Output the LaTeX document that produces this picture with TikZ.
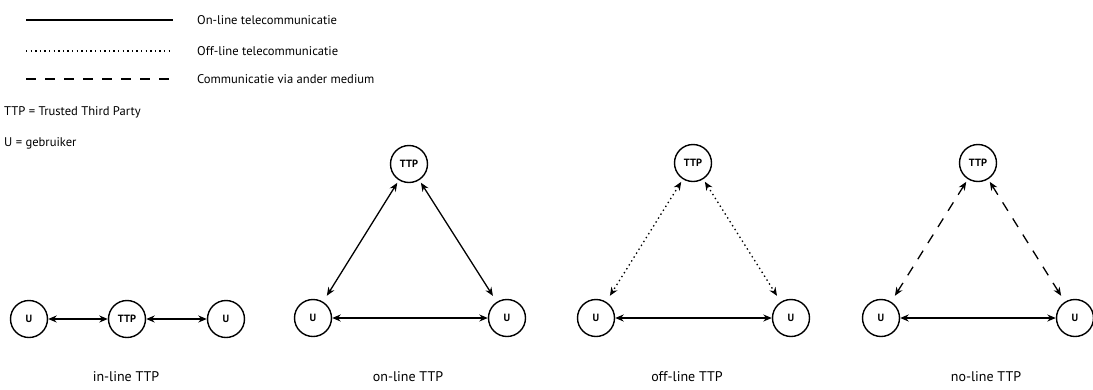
\documentclass[tikz,border=0pt]{standalone}
\usepackage{fontspec}
\setmainfont{PT Sans}
\usetikzlibrary{arrows.meta}
\tikzset{
  party/.style={draw, circle, line width=1.4pt, minimum size=37pt, inner sep=0pt, font=\bfseries\fontsize{10.5}{12}\selectfont},
  link/.style={line width=1.3pt, {Stealth[length=8.5pt,width=7pt]}-{Stealth[length=8.5pt,width=7pt]}},
  diag/.style={link, shorten <=3pt, shorten >=7pt},
  offl/.style={dash pattern=on 1.4pt off 3.2pt},
  nol/.style={dash pattern=on 10pt off 9pt},
  legtext/.style={anchor=west, inner sep=0pt, font=\fontsize{12.6}{14}\selectfont},
  caption/.style={font=\fontsize{14}{16}\selectfont, inner sep=0pt},
}
\begin{document}
\begin{tikzpicture}[x=1pt,y=-1pt]
\useasboundingbox (0,0) rectangle (1093,389);
% legend
\coordinate (l1a) at (26,20); \coordinate (l1b) at (173,20);
\coordinate (l2a) at (26,51); \coordinate (l2b) at (173,51);
\coordinate (l3a) at (26,79); \coordinate (l3b) at (173,79);
\draw[line width=1.8pt] (l1a) -- (l1b);
\draw[line width=1.1pt, offl] (l2a) -- (l2b);
\draw[line width=1.6pt, nol] (l3a) -- (l3b);
\node[legtext] (t1) at (197,20) {On-line telecommunicatie};
\node[legtext] (t2) at (197,51) {Off-line telecommunicatie};
\node[legtext] (t3) at (197,79) {Communicatie via ander medium};
\node[legtext] (t4) at (4,112) {TTP = Trusted Third Party};
\node[legtext] (t5) at (4,143) {U = gebruiker};
% panel 1: in-line
\node[party] (a1) at (29,319) {U};
\node[party] (at) at (127,319) {TTP};
\node[party] (a2) at (226,319) {U};
\draw[link] (a1) -- (at);
\draw[link] (at) -- (a2);
\node[caption] (ca) at (126,377) {in-line TTP};
% panel 2: on-line
\node[party] (bt) at (409,164) {TTP};
\node[party] (b1) at (313,318) {U};
\node[party] (b2) at (507,318) {U};
\draw[diag] (bt) -- (b1);
\draw[diag] (bt) -- (b2);
\draw[link] (b1) -- (b2);
\node[caption] (cb) at (408,377) {on-line TTP};
% panel 3: off-line
\node[party] (ct) at (693,163) {TTP};
\node[party] (c1) at (596,318) {U};
\node[party] (c2) at (791,318) {U};
\draw[diag, offl] (ct) -- (c1);
\draw[diag, offl] (ct) -- (c2);
\draw[link] (c1) -- (c2);
\node[caption] (cc) at (687,377) {off-line TTP};
% panel 4: no-line
\node[party] (dt) at (978,163) {TTP};
\node[party] (d1) at (881,318) {U};
\node[party] (d2) at (1075,318) {U};
\draw[diag, nol] (dt) -- (d1);
\draw[diag, nol] (dt) -- (d2);
\draw[link] (d1) -- (d2);
\node[caption] (cd) at (986,377) {no-line TTP};
\end{tikzpicture}
\end{document}
